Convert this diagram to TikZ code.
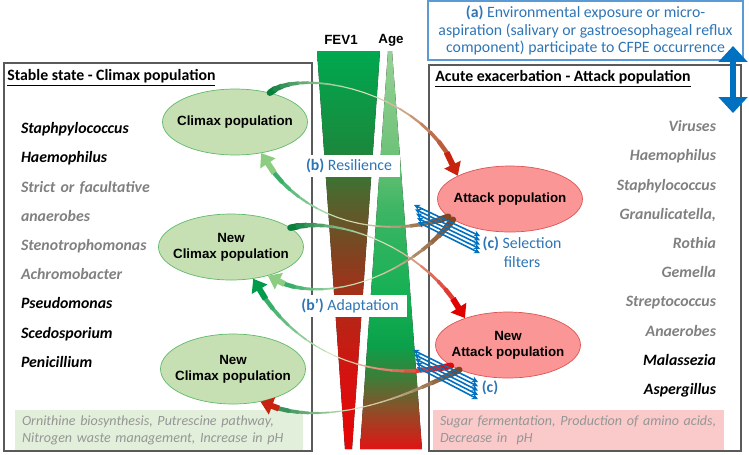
\documentclass[tikz,border=0pt]{standalone}
\usepackage{fontspec}
\setmainfont{Carlito}
\newfontfamily\arialfont{Liberation Sans}
\usetikzlibrary{arrows.meta,positioning,shapes.geometric}

\definecolor{climfill}{RGB}{198,224,180}
\definecolor{climedge}{RGB}{96,186,106}
\definecolor{attfill}{RGB}{250,150,150}
\definecolor{attedge}{RGB}{222,84,84}
\definecolor{sppgray}{RGB}{128,128,128}
\definecolor{framegray}{RGB}{90,90,90}
\definecolor{textblue}{RGB}{46,117,182}
\definecolor{arrowblue}{RGB}{0,112,192}
\definecolor{aedge}{RGB}{91,155,213}
\definecolor{climbox}{RGB}{226,239,218}
\definecolor{attbox}{RGB}{250,202,202}
\definecolor{metagray}{RGB}{150,150,150}
\definecolor{bandmid}{RGB}{222,234,196}
\definecolor{darkgreen}{RGB}{0,120,55}
\definecolor{midgreen}{RGB}{0,155,75}
\definecolor{lightgreen}{RGB}{140,205,130}
\definecolor{bandbrown}{RGB}{125,60,25}
\definecolor{bandred}{RGB}{225,0,0}
\definecolor{rustred}{RGB}{175,45,15}
\definecolor{tipred}{RGB}{200,35,15}

% FEV1 and age wedges
\pgfdeclareverticalshading{fevshade}{100bp}{rgb(0bp)=(.90,.02,.02); rgb(25bp)=(.90,.02,.02);
  rgb(34bp)=(.84,.07,.06); rgb(43bp)=(.69,.16,.09); rgb(50bp)=(.49,.27,.13);
  rgb(57bp)=(.31,.40,.18); rgb(63bp)=(.10,.54,.24); rgb(75bp)=(0,.66,.31); rgb(100bp)=(0,.66,.31)}
\pgfdeclareverticalshading{ageshade}{100bp}{rgb(0bp)=(.88,.08,.08); rgb(25bp)=(.88,.08,.08);
  rgb(30bp)=(.55,.31,.16); rgb(34bp)=(.24,.49,.22); rgb(38bp)=(.04,.63,.29);
  rgb(44bp)=(.08,.69,.33); rgb(55bp)=(.24,.71,.39); rgb(62bp)=(.43,.76,.47);
  rgb(75bp)=(.59,.82,.59); rgb(100bp)=(.59,.82,.59)}

% tapered band: #1 start, #2 #3 controls, #4 end, #5 start colour, #6 end colour, #7 tip colour
\newcommand{\gradarrow}[7]{%
  \foreach \k [evaluate=\k as \tpos using \k/20] in {0,...,20}
    {\path #1 .. controls #2 and #3 .. #4 coordinate[pos=\tpos] (g\k);}
  \foreach \k [count=\j, evaluate=\k as \tpos using (\k+0.5)/20] in {0,...,17}{
    \pgfmathsetmacro\bandwd{0.6+3.4*(2*\tpos-1)*(2*\tpos-1)}
    \pgfmathsetmacro\bandpc{100*abs(2*\tpos-1)}
    \ifdim\tpos pt<0.5pt\colorlet{bandc}{#5!\bandpc!bandmid}\else\colorlet{bandc}{#6!\bandpc!bandmid}\fi
    \draw[line width=\bandwd pt, bandc, line cap=round] (g\k) -- (g\j);
  }
  \draw[line width=3.4pt, #7, -{Triangle[length=7pt,width=10pt]}] (g18) -- (g20);
}

\begin{document}
\begin{tikzpicture}[
    x=0.02cm, y=-0.02cm,
    frame/.style={draw=framegray, line width=0.7pt},
    title/.style={anchor=west, inner sep=0pt, font=\fontsize{9}{11}\selectfont\bfseries},
    spp/.style={inner sep=0pt, text width=2.6cm, minimum height=0.57cm, text height=1.5ex, text depth=0.4ex, font=\fontsize{9}{11}\selectfont\bfseries\itshape},
    sppl/.style={spp, align=left},
    sppr/.style={spp, align=right},
    climax/.style={ellipse, draw=climedge, fill=climfill, minimum width=2.9cm, minimum height=1.32cm, inner sep=0pt},
    attackpop/.style={ellipse, draw=attedge, fill=attfill, minimum width=2.9cm, minimum height=1.32cm, inner sep=0pt},
    poptext/.style={align=center, inner sep=0pt, font=\fontsize{7.6}{9}\arialfont\bfseries},
    axislabel/.style={font=\fontsize{7.6}{9}\arialfont\bfseries},
    bluelabel/.style={text=textblue, inner sep=1pt, font=\fontsize{9}{10.5}\selectfont},
    phase/.style={bluelabel, fill=white, minimum height=0.44cm},
    metabox/.style={minimum height=0.8cm, inner xsep=0.14cm, align=left, text=metagray, font=\fontsize{8}{9.6}\selectfont\itshape},
    selfilter/.style={draw=arrowblue, line width=0.9pt, {Stealth[length=3.5pt,width=3.5pt]}-{Stealth[length=3.5pt,width=3.5pt]}}
]
\useasboundingbox (0,0) rectangle (749,454);

% wedges
\fill[shading=fevshade] (317,51) -- (380,51) -- (352,449) -- (345,449) -- cycle;
\fill[shading=ageshade] (388,51) -- (392,51) -- (422,449) -- (360,449) -- cycle;
\node[axislabel] (fevlabel) at (341,40) {FEV1};
\node[axislabel] (agelabel) at (391,40) {Age};

% the two states
\draw[frame] (4,63) rectangle (312,451);
\draw[frame] (429,65) rectangle (741,451);
\node[title] (stabletitle) at (7,78) {\underline{Stable state - Climax population}};
\node[title] (acutetitle) at (435,79) {\underline{Acute exacerbation - Attack population}};

\node[draw=aedge, line width=0.7pt, minimum width=6.3cm, minimum height=1.18cm, align=center, bluelabel, font=\fontsize{9}{9.9}\selectfont] (envbox) at (585.5,30.5)
  {\textbf{(a)} Environmental exposure or micro-\\aspiration (salivary or gastroesophageal reflux\\component) participate to CFPE occurrence};

% species
\node[sppl] (l1) at (86,129) {Staphpylococcus};
\node[sppl, below=0pt of l1] (l2) {Haemophilus};
\node[sppl, below=0pt of l2, text=sppgray] (l3) {Strict or facultative};
\node[sppl, below=0pt of l3, text=sppgray] (l4) {anaerobes};
\node[sppl, below=0pt of l4, text=sppgray] (l5) {Stenotrophomonas};
\node[sppl, below=0pt of l5, text=sppgray] (l6) {Achromobacter};
\node[sppl, below=0pt of l6] (l7) {Pseudomonas};
\node[sppl, below=0pt of l7] (l8) {Scedosporium};
\node[sppl, below=0pt of l8] (l9) {Penicillium};

\node[sppr, text=sppgray] (r1) at (651,127) {Viruses};
\node[sppr, below=0pt of r1, text=sppgray] (r2) {Haemophilus};
\node[sppr, below=0pt of r2, text=sppgray] (r3) {Staphylococcus};
\node[sppr, below=0pt of r3, text=sppgray] (r4) {Granulicatella,};
\node[sppr, below=0pt of r4, text=sppgray] (r5) {Rothia};
\node[sppr, below=0pt of r5, text=sppgray] (r6) {Gemella};
\node[sppr, below=0pt of r6, text=sppgray] (r7) {Streptococcus};
\node[sppr, below=0pt of r7, text=sppgray] (r8) {Anaerobes};
\node[sppr, below=0pt of r8] (r9) {Malassezia};
\node[sppr, below=0pt of r9] (r10) {Aspergillus};

% metabolism
\node[metabox, fill=climbox, minimum width=5.76cm, text width=5.48cm] (climmeta) at (159,430)
  {Ornithine biosynthesis, Putrescine pathway,\\Nitrogen waste management, Increase in pH};
\node[metabox, fill=attbox, minimum width=5.82cm, text width=5.54cm] (attmeta) at (578.5,430)
  {Sugar fermentation, Production of amino acids,\\Decrease in\ \ pH};

% populations
\node[climax, label={[poptext]center:Climax population}] (clim1) at (235,122) {};
\node[climax, label={[poptext]center:New\\Climax population}] (clim2) at (231,247) {};
\node[climax, minimum height=1.4cm, label={[poptext]center:New\\Climax population}] (clim3) at (233,369) {};
\node[attackpop, label={[poptext]center:Attack population}] (attack) at (510,199) {};
\node[attackpop, label={[poptext]center:New\\Attack population}] (newattack) at (508,345) {};

% transitions
\gradarrow{(clim1.40)}{(300,66)}{(430,92)}{(attack.156)}{darkgreen}{rustred}{tipred}
\gradarrow{(attack.196)}{(390,240)}{(300,225)}{(clim1.310)}{bandbrown}{midgreen}{lightgreen}
\gradarrow{(clim2.18)}{(340,215)}{(430,250)}{(newattack.148)}{darkgreen}{bandred}{bandred}
\gradarrow{(attack.200)}{(410,275)}{(320,310)}{(clim2.322)}{bandbrown}{midgreen}{lightgreen}
\gradarrow{(newattack.200)}{(370,385)}{(290,350)}{(clim2.305)}{bandred}{midgreen}{midgreen}
\gradarrow{(newattack.207)}{(400,400)}{(320,430)}{(clim3.310)}{bandbrown}{darkgreen}{tipred}

\node[phase, minimum width=2.06cm] (resil) at (349,166) {\textbf{(b)} Resilience};
\node[phase, minimum width=2.3cm] (adapt) at (350,306) {\textbf{(b’)} Adaptation};

% selection filters
\coordinate (fa1) at (414,205);
\coordinate (fb1) at (480,236);
\foreach \s in {0,...,4}
  \draw[selfilter] ([shift={(\s,4.3*\s)}]fa1) -- ([shift={(0,4.3*\s)}]fb1);
\coordinate (fa2) at (413,350);
\coordinate (fb2) at (478,382);
\foreach \s in {0,...,4}
  \draw[selfilter] ([shift={(\s,4.3*\s)}]fa2) -- ([shift={(0,4.3*\s)}]fb2);
\node[bluelabel, align=center, font=\fontsize{9}{11}\selectfont] (selc) at (522,252) {\textbf{(c)} Selection\\filters};
\node[bluelabel] (selc2) at (490,388) {\textbf{(c)}};

% exposure
\coordinate (dtop) at (733,46);
\coordinate (dbot) at (733,113);
\draw[arrowblue, line width=3.4pt, {Triangle[length=9pt,width=16pt]}-{Triangle[length=9pt,width=16pt]}] (dtop) -- (dbot);
\end{tikzpicture}
\end{document}
